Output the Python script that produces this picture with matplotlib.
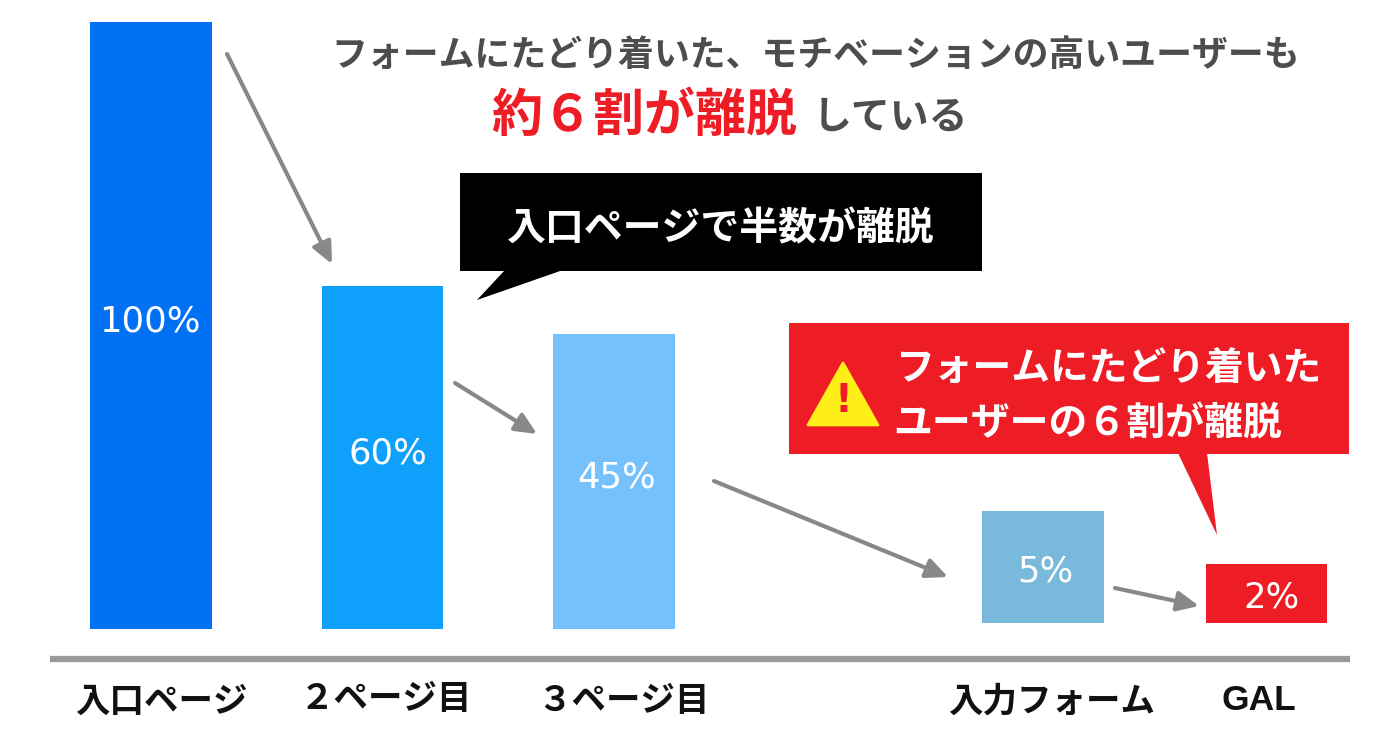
import matplotlib
matplotlib.use('Agg')
import matplotlib.pyplot as plt
from matplotlib.patches import Polygon, Rectangle

plt.rcParams['font.family'] = ['Noto Sans CJK JP', 'DejaVu Sans']

categories = ['入口ページ', '２ページ目', '３ページ目', '入力フォーム', 'GAL']
# bar heights in px, 100% = 607
bar_heights = [607, 343, 295, 112, 59]
bar_bottoms = [629, 629, 629, 623, 623]
bar_lefts = [90, 321.5, 553, 982, 1205.5]
bar_labels = ['100%', '60%', '45%', '5%', '2%']
bar_colors = ['#0070f5', '#0ea0fb', '#74c1fd', '#79b9dc', '#ee1c25']
label_x = [150, 388, 617, 1045, 1271]
label_y = [321, 453, 478, 572, 597]
cat_x = [161, 386, 623, 1052, 1259]
cat_y = [701, 698, 701, 701, 701]
arrows = [((227, 54), (332, 264)), ((455, 383), (537, 434)),
          ((714, 481), (948, 577)), ((1115, 588), (1199, 606))]

fig = plt.figure(figsize=(14, 7.5), dpi=100)
ax = fig.add_axes([0, 0, 1, 1])
ax.set_xlim(0, 1400)
ax.set_ylim(750, 0)
ax.axis('off')

for left, h, b, c in zip(bar_lefts, bar_heights, bar_bottoms, bar_colors):
    ax.bar(left, h, width=121.5, bottom=b - h, align='edge', color=c)
for x, y, s in zip(label_x, label_y, bar_labels):
    ax.text(x, y, s, color='white', fontsize=25.5, ha='center', va='center', family='DejaVu Sans')

# baseline
ax.plot([50, 1350], [659, 659], color='#999999', lw=4.5, solid_capstyle='butt')
for x, y, s in zip(cat_x, cat_y, categories):
    if s == 'GAL':
        ax.text(x, y, s, color='#111111', fontsize=25.5, fontweight='bold', ha='center', va='center',
                family='Liberation Sans')
    else:
        ax.text(x, y, s, color='#111111', fontsize=24.8, fontweight='bold', ha='center', va='center')

for start, end in arrows:
    ax.annotate('', xy=end, xytext=start,
                arrowprops=dict(arrowstyle='-|>,head_length=1.3,head_width=0.6',
                                color='#888888', lw=3, shrinkA=0, shrinkB=0))

# headline
ax.text(816, 55, 'フォームにたどり着いた、モチベーションの高いユーザーも', color='#4d4d4d',
        fontsize=25.8, fontweight='bold', ha='center', va='center')
ax.text(644, 116, '約６割が離脱', color='#ee1c25', fontsize=36.7, fontweight='bold', ha='center', va='center')
ax.text(891, 117, 'している', color='#4d4d4d', fontsize=28, fontweight='bold', ha='center', va='center')

# black callout
ax.add_patch(Rectangle((460, 173), 522, 98, color='black', lw=0))
ax.add_patch(Polygon([(505, 270), (563, 270), (477, 300)], color='black', lw=0))
ax.text(721, 229, '入口ページで半数が離脱', color='white', fontsize=28, fontweight='bold', ha='center', va='center')

# red callout
ax.add_patch(Rectangle((789, 323), 560, 131, color='#ee1c25', lw=0))
ax.add_patch(Polygon([(1178, 453), (1207, 453), (1217, 535)], color='#ee1c25', lw=0))
ax.text(1109, 368, 'フォームにたどり着いた', color='white', fontsize=27.9, fontweight='bold', ha='center', va='center')
ax.text(1088, 424, 'ユーザーの６割が離脱', color='white', fontsize=28, fontweight='bold', ha='center', va='center')

# warning sign
ax.add_patch(Polygon([(843, 363), (878, 425), (808, 425)], closed=True, facecolor='#ffee1a',
                     edgecolor='#ffee1a', lw=2, joinstyle='round'))
ax.text(843, 401, '!', color='#ee1c25', fontsize=28, fontweight='bold', ha='center', va='center',
        family='DejaVu Sans')

fig.savefig('out.png', dpi=100)
